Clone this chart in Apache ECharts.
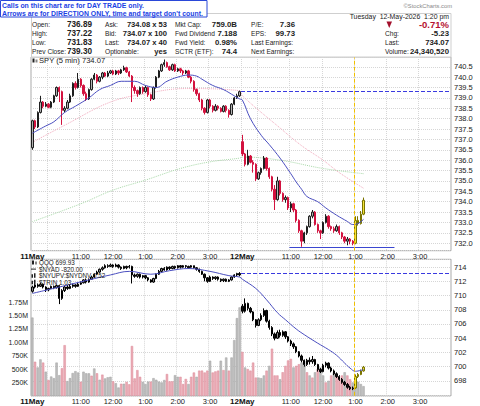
<!DOCTYPE html>
<html>
<head>
<meta charset="utf-8">
<script src="https://cdn.jsdelivr.net/npm/echarts@6/dist/echarts.min.js"></script>
<style>
html, body { margin: 0; padding: 0; background: #fff; }
#chart { width: 480px; height: 406px; }
</style>
</head>
<body>
<div id="chart"></div>
<script>
// ---- data ----
var days = ['11May', '12May'];
var barsPerDay = 78;               // 9:30 .. 3:55, 5 min bars
var labelHours = ['11:00', '12:00', '1:00', '2:00', '3:00'];
var gridHours = ['10:00', '11:00', '12:00', '1:00', '2:00', '3:00'];
var highlightFrom = '12May 1:00';

// SPY 5 min, [open, close, low, high]
var spyDay1 = [
  [736.6,737.9,736.5,737.95],[737.9,737.6,737.5,737.95],[737.6,738.3,737.55,738.35],[738.3,738.8,738.25,739.1],
  [738.8,738.6,738.5,738.85],[738.6,738.7,738.55,738.8],[738.7,738.55,738.5,738.75],[738.55,738.8,738.5,738.85],
  [738.8,739.1,738.75,739.15],[739.1,739.5,739.05,739.55],[739.5,739.3,738.8,739.55],[739.3,738.4,737.7,739.35],
  [738.4,738.5,738.3,738.6],[738.5,738.8,738.45,738.9],[738.8,739.1,738.75,739.2],[739.1,739.7,739.05,739.75],
  [739.7,739.5,739.4,739.8],[739.5,739.9,739.45,740.2],[739.9,739.6,739.5,739.95],[739.6,739.2,739.1,739.65],
  [739.2,738.95,738.85,739.3],[738.95,739.4,738.9,739.45],[739.4,739.9,739.35,739.95],[739.9,740.1,739.85,740.2],
  [740.1,739.8,739.7,740.15],[739.8,740.0,739.75,740.05],[740.0,740.2,739.9,740.25],[740.2,740.05,740.0,740.25],
  [740.05,740.2,740.0,740.3],[740.2,740.3,740.15,740.35],[740.3,740.15,740.1,740.35],[740.15,740.3,740.1,740.35],
  [740.3,740.2,740.1,740.35],[740.2,740.35,740.15,740.4],[740.35,740.45,740.3,740.55],[740.45,740.25,740.2,740.5],
  [740.25,740.05,740.0,740.3],[740.05,739.5,738.8,740.1],[739.5,739.35,739.2,739.6],[739.35,739.2,739.05,739.4],
  [739.2,739.5,739.15,739.55],[739.5,739.3,739.2,739.55],[739.3,739.5,739.25,739.6],[739.5,739.15,739.05,739.55],
  [739.15,738.95,738.85,739.2],[738.95,739.5,738.9,739.55],[739.5,740.0,739.45,740.05],[740.0,740.3,739.95,740.35],
  [740.3,740.6,740.25,740.65],[740.6,740.7,740.5,740.85],[740.7,740.5,740.45,740.75],[740.5,740.35,740.3,740.55],
  [740.35,740.6,740.3,740.65],[740.6,740.3,740.25,740.65],[740.3,740.4,740.25,740.45],[740.4,740.3,740.2,740.45],
  [740.3,740.2,740.1,740.35],[740.2,740.3,740.15,740.35],[740.3,740.0,739.95,740.35],[740.0,739.8,739.7,740.05],
  [739.8,739.4,739.3,739.85],[739.4,739.2,739.1,739.45],[739.2,738.9,738.8,739.25],[738.9,738.5,738.4,738.95],
  [738.5,738.3,738.2,738.55],[738.3,738.9,738.25,738.95],[738.9,738.6,738.5,738.95],[738.6,738.4,738.3,738.65],
  [738.4,738.6,738.35,738.7],[738.6,738.5,738.4,738.65],[738.5,738.35,738.3,738.55],[738.35,738.6,738.3,738.65],
  [738.6,738.4,738.3,738.65],[738.4,738.2,738.05,738.45],[738.2,738.7,738.15,738.75],[738.7,739.0,738.65,739.05],
  [739.0,739.1,738.95,739.2],[739.1,739.3,739.05,739.35]
];
var spyDay2 = [
  [736.89,736.3,736.2,737.22],[736.3,735.8,735.7,736.35],[735.8,736.2,735.75,736.5],[736.2,735.9,735.85,736.25],
  [735.9,735.8,735.4,736.0],[735.8,735.1,735.0,735.85],[735.1,735.4,735.05,735.45],[735.4,735.6,735.3,735.65],
  [735.6,736.1,735.55,736.2],[736.1,735.6,735.5,736.15],[735.6,735.2,735.1,735.65],[735.2,734.6,734.5,735.25],
  [734.6,734.1,733.6,734.8],[734.1,735.0,734.05,735.2],[735.0,734.4,734.3,735.05],[734.4,734.1,734.0,734.45],
  [734.1,734.2,733.95,734.3],[734.2,733.7,733.6,734.25],[733.7,733.9,733.5,734.0],[733.9,733.6,733.5,733.95],
  [733.6,733.1,733.0,733.65],[733.1,732.6,732.5,733.15],[732.6,732.1,731.83,732.65],[732.1,732.5,732.0,732.55],
  [732.5,732.8,732.4,732.85],[732.8,733.3,732.75,733.35],[733.3,733.5,733.2,733.6],[733.5,732.9,732.85,733.55],
  [732.9,732.6,732.5,732.95],[732.6,732.5,732.2,732.65],[732.5,733.0,732.45,733.05],[733.0,733.3,732.95,733.4],
  [733.3,732.8,732.7,733.35],[732.8,732.7,732.6,732.85],[732.7,732.6,732.5,732.8],[732.6,732.8,732.55,732.9],
  [732.8,732.5,732.4,732.85],[732.5,732.3,732.2,732.55],[732.3,732.1,732.0,732.35],[732.1,732.2,731.9,732.3],
  [732.2,732.1,731.95,732.25],[732.1,732.0,731.9,732.15],[732.0,733.1,731.95,733.3],[733.1,732.95,732.85,733.3],
  [732.95,733.4,732.9,733.55],[733.4,734.07,733.35,734.2]
];
// moving averages on SPY, [bar of the day, value]
var spyMaDay1 = [[0,737.3],[5,737.65],[8,737.85],[12,738.3],[16,738.6],[21,739.0],[25,739.4],[29,739.6],[33,739.8],
  [38,739.8],[42,739.6],[46,739.5],[50,739.8],[54,740.0],[58,740.1],[61,740.05],[63,739.9],[67,739.6],[71,739.4],[75,739.1],[77,738.95]];
var spyMaDay2 = [[0,738.9],[3,738.0],[7,737.2],[10,736.75],[14,736.1],[18,735.35],[20,734.95],[22,734.6],[24,734.25],
  [28,734.0],[31,733.7],[35,733.35],[39,733.05],[41,732.9],[43,732.95],[45,733.15]];
var spyPinkDay1 = [[0,736.86],[13,737.75],[29,738.8],[42,739.2],[57,739.45],[77,739.35]];
var spyPinkDay2 = [[0,739.1],[14,737.55],[22,736.7],[30,736.0],[36,735.4],[45,734.65]];
var spyGreenDay1 = [[0,733.04],[18,733.9],[30,734.56],[42,735.04],[55,735.6],[66,735.92],[77,736.1]];
var spyGreenDay2 = [[0,736.15],[14,736.0],[30,735.6],[45,735.35]];
var spyPrevClose = 739.30;
var spyDayLow = 731.83;
var spyLowSpan = [18, 57];          // day 2 bars the low line runs across

// QQQ 5 min, [open, close, low, high]
var qqqDay1 = [
  [710.6,711.2,710.4,711.4],[711.2,711.5,711.0,711.7],[711.5,711.3,711.1,711.7],[711.3,711.6,711.2,711.8],
  [711.6,711.2,711.0,711.7],[711.2,710.8,710.5,711.3],[710.8,711.0,710.6,711.1],[711.0,711.3,710.9,711.4],
  [711.3,711.1,710.9,711.4],[711.1,711.4,711.0,711.5],[711.4,709.6,708.8,711.5],[709.6,710.7,709.4,710.9],
  [710.7,711.2,710.5,711.4],[711.2,711.0,710.8,711.5],[711.0,711.3,710.9,711.5],[711.3,711.5,711.1,711.7],
  [711.5,711.3,711.1,711.6],[711.3,711.6,711.2,711.8],[711.6,711.8,711.5,712.0],[711.8,712.2,711.7,712.3],
  [712.2,711.9,711.7,712.4],[711.9,712.3,711.8,712.4],[712.3,712.6,712.2,712.8],[712.6,713.0,712.5,713.1],
  [713.0,713.3,712.9,713.5],[713.3,713.7,713.2,713.8],[713.7,713.9,713.5,714.1],[713.9,714.2,713.8,714.4],
  [714.2,714.1,713.9,714.4],[714.1,714.3,714.0,714.5],[714.3,714.1,713.9,714.4],[714.1,714.3,714.0,714.5],
  [714.3,714.0,713.8,714.4],[714.0,713.8,713.6,714.1],[713.8,714.1,713.7,714.2],[714.1,713.9,713.7,714.2],
  [714.0,714.1,713.8,714.3],[714.1,712.9,711.7,714.2],[712.9,712.7,712.5,713.1],[712.7,713.0,712.5,713.1],
  [713.0,712.6,712.4,713.1],[712.6,712.8,712.4,712.9],[712.8,712.5,712.3,712.9],[712.5,712.2,712.0,712.6],
  [712.2,711.9,711.8,712.3],[711.9,712.4,711.8,712.5],[712.4,713.0,712.3,713.1],[713.0,713.4,712.9,713.6],
  [713.4,713.8,713.3,713.9],[713.8,713.6,713.5,714.0],[713.6,714.0,713.5,714.1],[714.0,713.8,713.6,714.1],
  [713.8,714.1,713.7,714.2],[714.1,713.9,713.7,714.2],[713.9,714.2,713.8,714.3],[714.2,714.0,713.8,714.3],
  [714.0,714.2,713.9,714.3],[714.2,714.1,713.9,714.3],[714.1,713.9,713.8,714.2],[714.0,714.2,713.9,714.3],
  [714.2,713.9,713.8,714.2],[713.9,713.7,713.5,714.0],[713.7,713.4,713.2,713.8],[713.4,713.0,712.9,713.5],
  [713.0,712.5,712.0,713.1],[712.5,712.0,711.8,712.6],[712.0,712.6,711.9,712.8],[712.6,712.4,712.2,712.7],
  [712.4,712.6,712.2,712.7],[712.6,712.3,712.1,712.7],[712.3,712.1,711.9,712.4],[712.1,712.3,711.9,712.4],
  [712.3,712.0,711.9,712.4],[712.0,712.2,711.9,712.3],[712.2,712.6,712.1,712.7],[712.6,712.9,712.5,713.0],
  [712.9,713.1,712.7,713.2],[713.1,712.9,712.7,713.3]
];
var qqqDay2 = [
  [708.5,707.8,707.5,708.8],[707.8,708.9,707.6,709.6],[708.9,708.2,707.9,709.0],[708.2,707.7,707.5,708.4],
  [707.7,706.6,706.4,707.8],[706.6,705.8,705.5,706.7],[705.8,706.6,705.7,706.8],[706.6,707.2,706.4,707.5],
  [707.2,707.9,707.0,708.2],[707.9,706.4,706.2,708.0],[706.4,705.5,705.2,706.6],[705.5,704.6,704.3,705.7],
  [704.6,704.0,703.7,704.8],[704.0,704.8,703.9,705.1],[704.8,704.4,704.1,705.2],[704.4,704.9,704.2,705.1],
  [704.9,704.2,703.9,705.0],[704.2,703.6,703.4,704.3],[703.6,703.2,702.9,703.8],[703.2,702.8,702.5,703.4],
  [702.8,702.1,701.9,702.9],[702.1,701.5,701.3,702.2],[701.5,700.9,700.6,701.7],[700.9,700.3,700.0,701.0],
  [700.3,700.9,700.1,701.1],[700.9,700.7,700.3,701.3],[700.7,701.0,700.4,701.5],[701.0,700.3,700.1,701.1],
  [700.3,699.6,699.3,700.4],[699.6,699.3,699.1,699.8],[699.3,700.2,699.2,700.4],[700.2,700.5,699.9,700.7],
  [700.5,699.8,699.6,700.6],[699.8,699.4,699.2,700.0],[699.4,699.0,698.8,699.6],[699.0,698.6,698.4,699.2],
  [698.6,698.2,698.0,698.8],[698.2,697.8,697.6,698.4],[697.8,697.5,697.3,698.0],[697.5,697.1,696.9,697.7],
  [697.1,696.9,696.7,697.3],[696.9,697.0,696.7,697.2],[697.0,698.6,696.9,698.9],[698.6,698.9,698.4,699.1],
  [698.9,699.4,698.8,699.6],[699.4,699.93,699.3,700.1]
];
var qqqMaDay1 = [[0,710.3],[10,711.2],[21,712.2],[29,712.9],[36,713.4],[44,713.0],[51,713.5],[58,713.8],[66,713.4],[73,712.8],[77,712.6]];
var qqqMaDay2 = [[0,712.3],[5,711.0],[9,709.4],[13,707.6],[16,706.6],[20,705.3],[23,704.5],[28,703.3],[32,702.4],[35,701.6],
  [38,700.5],[40,699.8],[42,699.35],[45,699.6]];
var qqqPrevClose = 713.1;

// volume in thousands, direction 1 = up (grey), -1 = down (pink)
var volDay1 = [1460,636,530,680,620,450,295,360,330,620,385,515,945,275,330,425,460,435,263,450,
  420,420,375,510,420,300,395,325,345,355,270,235,155,225,225,260,215,930,325,480,
  355,260,220,265,265,330,300,265,250,295,407,270,270,385,355,355,220,315,220,355,
  435,355,470,470,435,470,655,435,455,470,655,480,715,470,715,1040,1450,1650];
var dirDay1 = [1,-1,1,1,-1,1,-1,1,1,1, 1,-1,-1,1,1,1,1,1,-1,1, 1,1,-1,1,-1,1,-1,1,1,1,
  -1,1,1,-1,1,-1,-1,-1,-1,-1, -1,1,1,1,-1,1,1,1,1,1, -1,-1,-1,1,1,-1,-1,-1,1,-1,
  -1,1,-1,-1,-1,-1,1,-1,-1,-1, 1,-1,1,-1,1,1,1,1];
var volDay2 = [820,530,500,470,620,340,340,330,380,470,560,880,380,380,310,440,560,660,690,530,
  560,590,620,650,440,380,340,440,500,530,380,250,280,380,440,400,310,380,440,380,
  310,250,300,260,220,180];
var dirDay2 = [-1,1,-1,-1,-1,-1,1,1,1,-1, 1,-1,-1,-1,1,-1,-1,-1,-1,1, -1,-1,1,1,-1,1,-1,1,-1,1,
  1,-1,1,-1,1,-1,-1,-1,1,-1, -1,1,1,1,1,1];

// header texts
var notice = ['Calls on this chart are for DAY TRADE only.', "Arrows are for DIRECTION ONLY, time and target don't count."];
var quoteCol1 = [['Open:', '736.89'], ['High:', '737.22'], ['Low:', '731.83'], ['Prev Close:', '739.30']];
var quoteCol2 = [['Ask:', '734.08 x 53'], ['Bid:', '734.07 x 100'], ['Last:', '734.07 x 40'], ['Optionable:', 'yes']];
var quoteCol3 = [['Mkt Cap:', '759.0B'], ['Fwd Dividend', '7.188'], ['Fwd Yield:', '0.98%'], ['SCTR (ETF):', '74.4']];
var quoteCol4 = [['P/E:', '7.36'], ['EPS:', '99.73'], ['Last Earnings:', ''], ['Next Earnings:', '']];
var quoteCol5 = [['', '-0.71%'], ['Chg:', '-5.23'], ['Last:', '734.07'], ['Volume:', '24,340,520']];
var dateText = 'Tuesday  12-May-2026  1:20 pm';
var spyLegend = 'SPY (5 min) 734.07';
var qqqLegend = ['QQQ 699.93', '$NYAD -820.00', '$NYUPV:$NYDNV 0.52', '$TRIN 1.03'];

// ---- build ----
var FONT = '"Liberation Sans", Arial, sans-serif';
var YEL = '#f3e33b', YEL_B = '#7a7400';

var times = [];
for (var m = 0; m < barsPerDay; m++) {
  var t = 9 * 60 + 30 + m * 5, h = Math.floor(t / 60), mm = t % 60;
  times.push((h > 12 ? h - 12 : h) + ':' + (mm < 10 ? '0' : '') + mm);
}
var categories = [];
days.forEach(function(d) { times.forEach(function(tm) { categories.push(d + ' ' + tm); }); });
var hiStart = categories.indexOf(highlightFrom);

function joinDays(a, b) {
  return a.concat(b.map(function(p) { return [p[0] + barsPerDay, p[1]]; }));
}
function candles(rows) {
  return rows.map(function(r, i) {
    if (i < hiStart) return r;
    return { value: r, itemStyle: { color: YEL, color0: YEL, borderColor: YEL_B, borderColor0: YEL_B } };
  });
}
var spy = spyDay1.concat(spyDay2);
var qqq = qqqDay1.concat(qqqDay2);
var vol = volDay1.concat(volDay2);
var dir = dirDay1.concat(dirDay2);
var volData = vol.map(function(v, i) {
  return { value: v, itemStyle: dir[i] > 0 ? { color: '#bdbdbd', borderColor: '#a3a3a3', borderWidth: 0.5 }
                                          : { color: '#eaaab4', borderColor: '#dc8c9a', borderWidth: 0.5 } };
});

function timeOf(v) { return v.split(' ')[1]; }
var xLabel = {
  fontFamily: FONT, fontSize: 7.5, color: '#222', margin: 2,
  interval: function(i, v) { var tm = timeOf(v); return tm === '9:30' || labelHours.indexOf(tm) >= 0; },
  formatter: function(v) { var p = v.split(' '); return p[1] === '9:30' ? '{d|' + p[0] + '}' : p[1]; },
  rich: { d: { fontFamily: FONT, fontSize: 8, fontWeight: 'bold', color: '#111' } }
};
var xSplit = {
  show: true,
  interval: function(i, v) { var tm = timeOf(v); return tm === '9:30' || gridHours.indexOf(tm) >= 0; },
  lineStyle: { color: '#d6d6d6', type: 'dotted', width: 1 }
};
function catAxis(g) {
  return { type: 'category', gridIndex: g, data: categories, boundaryGap: true,
    axisLine: { show: false }, axisTick: { show: false }, axisLabel: xLabel, splitLine: xSplit };
}
function halfStep(v) { return Math.abs(v * 2 - Math.round(v * 2)) < 1e-6; }

var yellowLine = { xAxis: hiStart, lineStyle: { color: '#f0c000', type: 'dashed', width: 1 } };

var graphic = [];
function txt(x, y, s, size, o) {
  o = o || {};
  graphic.push({ type: 'text', z: 100, silent: true, style: { text: s, x: x, y: y, fill: o.color || '#222',
    font: (o.bold ? 'bold ' : '') + size + 'px ' + FONT, align: o.align || 'left', verticalAlign: 'middle' } });
}
graphic.push({ type: 'rect', z: 90, silent: true, shape: { x: 31.5, y: 13.5, width: 419.5, height: 43.5 },
  style: { fill: '#fff', stroke: '#cfcfcf', lineWidth: 1 } });
graphic.push({ type: 'rect', z: 95, silent: true, shape: { x: 0.5, y: 0.5, width: 206.5, height: 16.5 },
  style: { fill: '#fff', stroke: '#2a48d8', lineWidth: 1 } });
txt(2, 5, notice[0], 6.9, { bold: true, color: '#1b3fe4' });
txt(2, 13, notice[1], 6.9, { bold: true, color: '#1b3fe4' });
txt(452, 5.5, '\u00a9StockCharts.com', 5.8, { align: 'right', color: '#888' });
txt(449, 16, dateText, 6.9, { align: 'right' });

var rowY = [24.7, 33.6, 42.4, 51.2];
function quoteCol(rows, lx, vx, vsize) {
  rows.forEach(function(r, i) {
    if (r[0]) txt(lx, rowY[i], r[0], 6.6);
    if (r[1]) txt(vx, rowY[i], r[1], vsize, { bold: true, align: 'right' });
  });
}
quoteCol(quoteCol1, 32, 92, 8.2);
quoteCol(quoteCol2, 105, 167, 7.6);
quoteCol(quoteCol3, 175, 237, 7.8);
quoteCol(quoteCol4, 251, 295, 7.8);
quoteCol(quoteCol5, 385, 449, 7.8);
graphic.push({ type: 'polygon', z: 100, silent: true, shape: { points: [[386.5, 21.5], [392, 21.5], [389.25, 28]] },
  style: { fill: '#a3102c' } });
// the percent change is red and larger
graphic.forEach(function(g) { if (g.style && g.style.text === '-0.71%') { g.style.fill = '#b5122f'; g.style.font = 'bold 9.5px ' + FONT; } });

// panel legends
graphic.push({ type: 'rect', z: 100, silent: true, shape: { x: 32.5, y: 58.5, width: 2, height: 4 }, style: { fill: '#222' } });
graphic.push({ type: 'rect', z: 100, silent: true, shape: { x: 35.5, y: 59.5, width: 2, height: 3 }, style: { fill: '#888' } });
txt(39, 60.5, spyLegend, 7.6);
var legY = [262.5, 269.1, 275.7, 282.3];
qqqLegend.forEach(function(s, i) { txt(39, legY[i], s, 6.3); });
graphic.push({ type: 'rect', z: 100, silent: true, shape: { x: 32, y: 260.5, width: 2, height: 4 }, style: { fill: '#222' } });
graphic.push({ type: 'rect', z: 100, silent: true, shape: { x: 35, y: 261.5, width: 2, height: 3 }, style: { fill: '#888' } });
graphic.push({ type: 'rect', z: 100, silent: true, shape: { x: 31, y: 268.6, width: 5, height: 1 }, style: { fill: '#222' } });
[275.7, 282.3].forEach(function(y) {
  graphic.push({ type: 'rect', z: 100, silent: true, shape: { x: 31.5, y: y - 1.5, width: 1.5, height: 3.5 }, style: { fill: '#222' } });
  graphic.push({ type: 'rect', z: 100, silent: true, shape: { x: 34, y: y - 2.5, width: 1.5, height: 4.5 }, style: { fill: '#222' } });
});

var option = {
  animation: false,
  backgroundColor: '#fff',
  grid: [
    { left: 31, right: 29, top: 57, bottom: 155.3, show: true, borderColor: '#a8a8a8', borderWidth: 1, backgroundColor: '#fff' },
    { left: 31, right: 29, top: 259.3, bottom: 10.2, show: true, borderColor: '#a8a8a8', borderWidth: 1, backgroundColor: '#fff' }
  ],
  xAxis: [
    catAxis(0),
    catAxis(1),
    { type: 'value', gridIndex: 0, min: 0, max: categories.length, show: false },
    { type: 'value', gridIndex: 1, min: 0, max: categories.length, show: false }
  ],
  yAxis: [
    { type: 'value', gridIndex: 0, position: 'right', min: 731.64, max: 740.97, minInterval: 0.5, maxInterval: 0.5,
      axisLine: { show: false }, axisTick: { show: false },
      axisLabel: { fontFamily: FONT, fontSize: 7.5, color: '#222', margin: 3,
        formatter: function(v) { return halfStep(v) && v >= 732 && v <= 740.5 ? v.toFixed(1) : ''; } },
      splitLine: { lineStyle: { color: '#d6d6d6', type: 'dotted' } } },
    { type: 'value', gridIndex: 1, position: 'right', min: 695.9, max: 715.1, minInterval: 2, maxInterval: 2,
      axisLine: { show: false }, axisTick: { show: false },
      axisLabel: { fontFamily: FONT, fontSize: 7.5, color: '#222', margin: 3,
        formatter: function(v) { return v % 2 === 0 && v >= 698 && v <= 714 ? String(v) : ''; } },
      splitLine: { lineStyle: { color: '#d6d6d6', type: 'dotted' } } },
    { type: 'value', gridIndex: 1, position: 'left', min: 0, max: 2547, minInterval: 250, maxInterval: 250,
      axisLine: { show: false }, axisTick: { show: false }, splitLine: { show: false },
      axisLabel: { fontFamily: FONT, fontSize: 7, color: '#222', margin: 3,
        formatter: function(v) {
          if (v <= 0 || v > 1750 || v % 250 !== 0) return '';
          return v >= 1000 ? (v / 1000).toFixed(2) + 'M' : v + 'K';
        } } }
  ],
  series: [
    { type: 'line', xAxisIndex: 0, yAxisIndex: 0, data: joinDays(spyGreenDay1, spyGreenDay2), smooth: 0.4,
      symbol: 'none', lineStyle: { color: '#a9d9a9', width: 1, type: 'dotted' }, z: 1 },
    { type: 'line', xAxisIndex: 0, yAxisIndex: 0, data: joinDays(spyPinkDay1, spyPinkDay2), smooth: 0.4,
      symbol: 'none', lineStyle: { color: '#f2a9bd', width: 1, type: 'dotted' }, z: 1 },
    { type: 'candlestick', xAxisIndex: 0, yAxisIndex: 0, data: candles(spy), barWidth: '72%',
      itemStyle: { color: '#b3b3b3', borderColor: '#1e1e1e', color0: '#d3123f', borderColor0: '#d3123f', borderWidth: 1 }, z: 3 },
    { type: 'line', xAxisIndex: 0, yAxisIndex: 0, data: joinDays(spyMaDay1, spyMaDay2), smooth: 0.4,
      symbol: 'none', lineStyle: { color: '#4b4fc0', width: 1 }, z: 4 },
    { type: 'line', xAxisIndex: 2, yAxisIndex: 0, data: [], z: 5,
      markLine: { silent: true, symbol: 'none', label: { show: false },
        data: [
          [{ coord: [barsPerDay, spyPrevClose], lineStyle: { color: '#3a3ae0', type: 'dashed', width: 1 } },
           { coord: [categories.length, spyPrevClose] }],
          [{ coord: [barsPerDay + spyLowSpan[0], spyDayLow], lineStyle: { color: '#3a46d0', type: 'solid', width: 1 } },
           { coord: [barsPerDay + spyLowSpan[1], spyDayLow] }],
          yellowLine
        ] } },
    { type: 'bar', xAxisIndex: 1, yAxisIndex: 2, data: volData, barCategoryGap: '12%', z: 1 },
    { type: 'candlestick', xAxisIndex: 1, yAxisIndex: 1, data: candles(qqq), barWidth: '72%',
      itemStyle: { color: '#8a8a8a', borderColor: '#000', color0: '#111', borderColor0: '#000', borderWidth: 1 }, z: 3 },
    { type: 'line', xAxisIndex: 1, yAxisIndex: 1, data: joinDays(qqqMaDay1, qqqMaDay2), smooth: 0.4,
      symbol: 'none', lineStyle: { color: '#4b4fc0', width: 1 }, z: 4 },
    { type: 'line', xAxisIndex: 3, yAxisIndex: 1, data: [], z: 5,
      markLine: { silent: true, symbol: 'none', label: { show: false },
        data: [
          [{ coord: [barsPerDay, qqqPrevClose], lineStyle: { color: '#3a3ae0', type: 'dashed', width: 1 } },
           { coord: [categories.length, qqqPrevClose] }],
          yellowLine
        ] } }
  ],
  graphic: graphic
};

var chart = echarts.init(document.getElementById('chart'), null, { renderer: 'svg', width: 480, height: 406 });
chart.setOption(option);
</script>
</body>
</html>
